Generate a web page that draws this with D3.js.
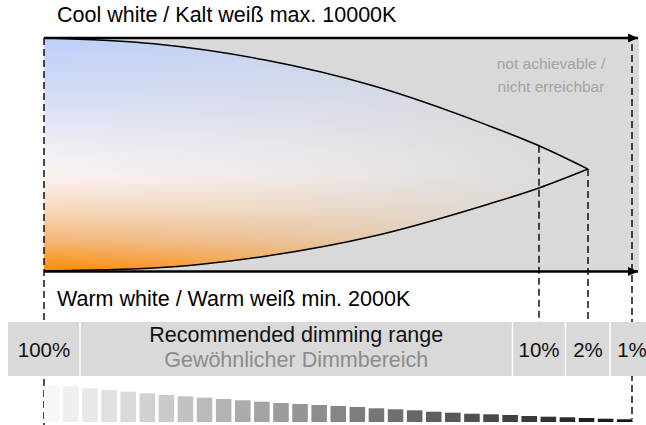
<!DOCTYPE html>
<html>
<head>
<meta charset="utf-8">
<script src="https://cdn.jsdelivr.net/npm/d3@7"></script>
<style>
  body { margin: 0; background: #fff; }
  svg { display: block; font-family: "Liberation Sans", Arial, sans-serif; }
</style>
</head>
<body>
<svg id="chart"></svg>
<script>
// dimming level (%) along the horizontal axis
const dimLevels = [100, 80, 60, 40, 20, 10, 2];
// achievable colour temperature range (K) at each dimming level
const coolLimitK = [10000, 9800, 9250, 8350, 7050, 6300, 5500];
const warmLimitK = [2000, 2100, 2500, 3200, 4250, 4850, 5500];

// marker levels and their labels in the band
const markerLevels = [100, 10, 2, 1];
const markerLabels = ["100%", "10%", "2%", "1%"];

// relative brightness of the staircase bars (100 = full)
const barBrightness = [
  100, 97.8, 92.3, 87.7, 83, 78.6, 74, 70.4, 66.6, 63, 59.5, 55.6, 52, 49.3, 46.6,
  43.8, 41.1, 37.5, 34.8, 32, 28.2, 25.5, 22.7, 21.1, 19.2, 16.4, 14.5, 12.9, 11, 9, 7.4,
];

const texts = {
  cool: "Cool white / Kalt weiß max. 10000K",
  warm: "Warm white / Warm weiß min. 2000K",
  na: ["not achievable /", "nicht erreichbar"],
  rec: "Recommended dimming range",
  recDe: "Gewöhnlicher Dimmbereich",
};

const layout = {
  width: 646,
  height: 425,
  plotTop: 38,
  plotBottom: 271,
  plotRight: 639,
  arrowEnd: 638,
  bandTop: 322,
  bandBottom: 376,
  bandLeft: 8,
  cellHalf: [36, 26.5, 22.5, 22],
  barTop: 385.5,
  barBottom: 422,
  gray: "#d9d9d9",
};

function render() {
  const L = layout;
  const svg = d3.select("svg#chart").attr("width", L.width).attr("height", L.height);
  const defs = svg.append("defs");

  // piecewise scale: dimming level -> x
  const xScale = d3.scaleLinear().domain(markerLevels).range([44, 539, 588, 632]);
  const yScale = d3.scaleLinear().domain([2000, 10000]).range([L.plotBottom, L.plotTop]);

  // gradients
  const vGrad = defs.append("linearGradient").attr("id", "ctGrad")
    .attr("gradientUnits", "userSpaceOnUse")
    .attr("x1", 0).attr("x2", 0).attr("y1", L.plotTop).attr("y2", L.plotBottom);
  [[0, "#bccffa"], [0.25, "#d5ddf6"], [0.5, "#f3f0f5"], [0.6, "#fdf1ee"],
   [0.72, "#f7dcc2"], [0.87, "#f5b677"], [1, "#ff8a00"]]
    .forEach(([o, c]) => vGrad.append("stop").attr("offset", o).attr("stop-color", c));

  const hGrad = defs.append("linearGradient").attr("id", "fadeGrad")
    .attr("gradientUnits", "userSpaceOnUse")
    .attr("x1", xScale(100)).attr("x2", xScale(2)).attr("y1", 0).attr("y2", 0);
  [[0, 0], [0.45, 0.35], [0.8, 0.75], [1, 0.95]]
    .forEach(([o, a]) => hGrad.append("stop").attr("offset", o)
      .attr("stop-color", L.gray).attr("stop-opacity", a));

  defs.append("marker").attr("id", "arrow")
    .attr("markerUnits", "userSpaceOnUse")
    .attr("viewBox", "0 -5 10 10")
    .attr("refX", 10).attr("refY", 0)
    .attr("markerWidth", 10).attr("markerHeight", 10)
    .attr("orient", "auto")
    .append("path").attr("d", "M0,-4.5L10,0L0,4.5Z").attr("fill", "#000");

  // gray background (not achievable region)
  svg.append("rect")
    .attr("x", xScale(100)).attr("y", L.plotTop)
    .attr("width", L.plotRight - xScale(100))
    .attr("height", L.plotBottom - L.plotTop)
    .attr("fill", L.gray);

  const rows = dimLevels.map((d, i) => ({ dim: d, cool: coolLimitK[i], warm: warmLimitK[i] }));

  const area = d3.area()
    .x((d) => xScale(d.dim))
    .y0((d) => yScale(d.warm))
    .y1((d) => yScale(d.cool))
    .curve(d3.curveMonotoneX);
  svg.append("path").attr("d", area(rows)).attr("fill", "url(#ctGrad)");
  svg.append("path").attr("d", area(rows)).attr("fill", "url(#fadeGrad)");

  const line = (key) => d3.line()
    .x((d) => xScale(d.dim))
    .y((d) => yScale(d[key]))
    .curve(d3.curveMonotoneX);
  ["cool", "warm"].forEach((k) =>
    svg.append("path").attr("d", line(k)(rows))
      .attr("fill", "none").attr("stroke", "#000").attr("stroke-width", 1.5));

  // DASHED guide lines
  const tip = rows[rows.length - 1];
  const guides = [
    [100, L.plotTop, L.height],
    [10, yScale(coolLimitK[dimLevels.indexOf(10)]), L.bandTop],
    [2, yScale(tip.cool), L.bandTop],
    [1, L.plotTop + 6, L.barBottom - 3],
  ];
  svg.append("g").selectAll("line").data(guides).join("line")
    .attr("x1", (d) => xScale(d[0])).attr("x2", (d) => xScale(d[0]))
    .attr("y1", (d) => d[1]).attr("y2", (d) => d[2])
    .attr("stroke", "#000").attr("stroke-width", 1.4)
    .attr("stroke-dasharray", "7,4");

  // ARROWS
  [L.plotTop, L.plotBottom + 0.5].forEach((y) =>
    svg.append("line")
      .attr("x1", xScale(100)).attr("x2", L.arrowEnd)
      .attr("y1", y).attr("y2", y)
      .attr("stroke", "#000").attr("stroke-width", 2.5)
      .attr("marker-end", "url(#arrow)"));

  // TEXTS
  svg.append("text").attr("x", 57).attr("y", 22)
    .style("font-size", "21.5px").attr("fill", "#000").text(texts.cool);
  svg.append("text").attr("x", 57).attr("y", 306)
    .style("font-size", "21.5px").attr("fill", "#000").text(texts.warm);
  svg.append("g").selectAll("text").data(texts.na).join("text")
    .attr("x", 551).attr("y", (_, i) => 69 + i * 22.5)
    .attr("text-anchor", "middle")
    .style("font-size", "15.5px").attr("fill", "#a3a3a3")
    .text((d) => d);

  // BAND
  const band = svg.append("g");
  band.append("rect")
    .attr("x", L.bandLeft).attr("y", L.bandTop)
    .attr("width", L.width - L.bandLeft).attr("height", L.bandBottom - L.bandTop)
    .attr("fill", L.gray);
  const cells = markerLevels.map((m, i) => ({
    label: markerLabels[i],
    cx: xScale(m),
    x0: xScale(m) - L.cellHalf[i],
    x1: xScale(m) + L.cellHalf[i],
  }));
  band.selectAll("line.sep")
    .data([cells[0].x1, cells[1].x0, cells[2].x0, cells[3].x0])
    .join("line").attr("class", "sep")
    .attr("x1", (d) => d).attr("x2", (d) => d)
    .attr("y1", L.bandTop).attr("y2", L.bandBottom)
    .attr("stroke", "#fff").attr("stroke-width", 1.5);
  band.selectAll("text.pct").data(cells).join("text").attr("class", "pct")
    .attr("x", (d) => d.cx).attr("y", 357)
    .attr("text-anchor", "middle")
    .style("font-size", "20.5px").attr("fill", "#111")
    .text((d) => d.label);
  const recX = (cells[0].x1 + cells[1].x0) / 2;
  band.append("text").attr("x", recX).attr("y", 342)
    .attr("text-anchor", "middle").style("font-size", "21.5px").attr("fill", "#111")
    .text(texts.rec);
  band.append("text").attr("x", recX).attr("y", 367)
    .attr("text-anchor", "middle").style("font-size", "21.5px").attr("fill", "#8c8c8c")
    .text(texts.recDe);

  // STAIRCASE bars
  const xBar = d3.scaleBand()
    .domain(d3.range(barBrightness.length))
    .range([44, 632.5])
    .paddingInner(0.185)
    .paddingOuter(0);
  const yBar = d3.scaleLinear().domain([0, 100]).range([L.barBottom, L.barTop]);
  const cBar = d3.scaleLinear().domain([0, barBrightness.length - 1]).range(["#f7f7f7", "#141414"]);
  svg.append("g").selectAll("rect").data(barBrightness).join("rect")
    .attr("x", (_, i) => xBar(i))
    .attr("y", (d) => yBar(d))
    .attr("width", xBar.bandwidth())
    .attr("height", (d) => L.barBottom - yBar(d))
    .attr("fill", (_, i) => cBar(i));
}

render();
</script>
</body>
</html>
